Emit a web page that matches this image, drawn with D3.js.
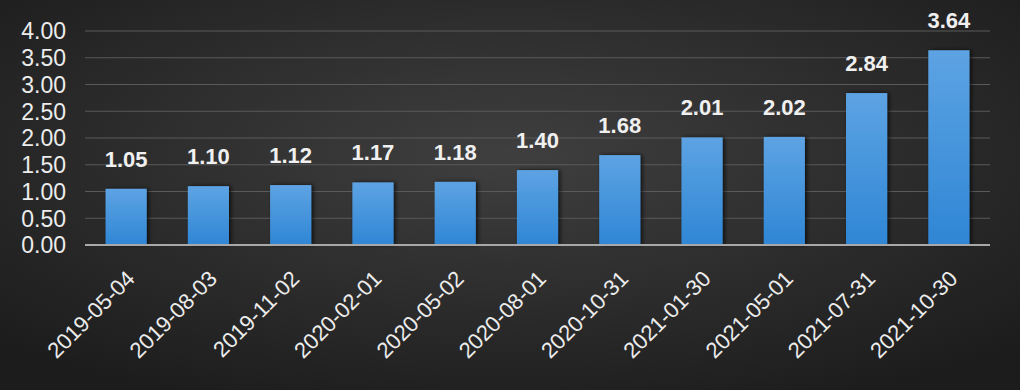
<!DOCTYPE html>
<html><head><meta charset="utf-8">
<script src="https://cdn.jsdelivr.net/npm/d3@7"></script>
<style>html,body{margin:0;padding:0;background:#2a2a2a;}svg{display:block;}</style>
</head><body>
<svg id="chart" width="1020" height="390"></svg>
<script>
const categories = ["2019-05-04","2019-08-03","2019-11-02","2020-02-01","2020-05-02","2020-08-01","2020-10-31","2021-01-30","2021-05-01","2021-07-31","2021-10-30"];
const values = [1.05,1.10,1.12,1.17,1.18,1.40,1.68,2.01,2.02,2.84,3.64];
const yTicks = [0,0.5,1,1.5,2,2.5,3,3.5,4];

const W = 1020, H = 390;
const m = {left:85, right:30, top:31, bottom:145};
const svg = d3.select("#chart");
const defs = svg.append("defs");
const bg = defs.append("radialGradient").attr("id","bg").attr("cx","50%").attr("cy","40%").attr("r","70%");
bg.append("stop").attr("offset","0%").attr("stop-color","#3f3f3f");
bg.append("stop").attr("offset","100%").attr("stop-color","#1c1c1c");
const bar = defs.append("linearGradient").attr("id","bar").attr("x1",0).attr("y1",0).attr("x2",0).attr("y2",1);
bar.append("stop").attr("offset","0%").attr("stop-color","#5da3e3");
bar.append("stop").attr("offset","100%").attr("stop-color","#2f86d5");
const sh = defs.append("filter").attr("id","sh").attr("x","-30%").attr("y","-10%").attr("width","160%").attr("height","120%");
sh.append("feDropShadow").attr("dx",2).attr("dy",0).attr("stdDeviation",2).attr("flood-color","#000").attr("flood-opacity",0.7);

svg.append("rect").attr("width",W).attr("height",H).attr("fill","url(#bg)");

const x = d3.scaleBand().domain(categories).range([m.left, W-m.right]).paddingInner(0.5).paddingOuter(0.25);
const y = d3.scaleLinear().domain([0,4]).range([H-m.bottom, m.top]);

// gridlines
svg.append("g").selectAll("line").data(yTicks.slice(1)).join("line")
  .attr("x1",m.left).attr("x2",W-m.right)
  .attr("y1",d=>y(d)).attr("y2",d=>y(d))
  .attr("stroke","#5a5a5a").attr("stroke-width",1);

// y labels
svg.append("g").selectAll("text").data(yTicks).join("text")
  .attr("x",66).attr("y",d=>y(d)).attr("dy","0.36em")
  .attr("text-anchor","end")
  .attr("font-family","Liberation Sans, Arial, sans-serif").attr("font-size",23)
  .attr("fill","#ececec").text(d=>d.toFixed(2));

// bars
svg.append("g").selectAll("rect").data(values).join("rect")
  .attr("x",(d,i)=>x(categories[i])).attr("width",x.bandwidth())
  .attr("y",d=>y(d)).attr("height",d=>y(0)-y(d))
  .attr("fill","url(#bar)").attr("filter","url(#sh)");

// baseline
svg.append("line").attr("x1",m.left).attr("x2",W-m.right)
  .attr("y1",y(0)).attr("y2",y(0)).attr("stroke","#a8a8a8").attr("stroke-width",2);

// value labels
svg.append("g").selectAll("text").data(values).join("text")
  .attr("x",(d,i)=>x(categories[i])+x.bandwidth()/2).attr("y",d=>y(d)-22)
  .attr("text-anchor","middle")
  .attr("font-family","Liberation Sans, Arial, sans-serif").attr("font-size",22).attr("font-weight","bold")
  .attr("fill","#f0f0f0").text(d=>d.toFixed(2));

// x labels
svg.append("g").selectAll("text").data(categories).join("text")
  .attr("text-anchor","end")
  .attr("transform",d=>`translate(${x(d)+x.bandwidth()/2+10},${y(0)+35}) rotate(-45)`)
  .attr("font-family","Liberation Sans, Arial, sans-serif").attr("font-size",22)
  .attr("fill","#ececec").text(d=>d);
</script>
</body></html>
